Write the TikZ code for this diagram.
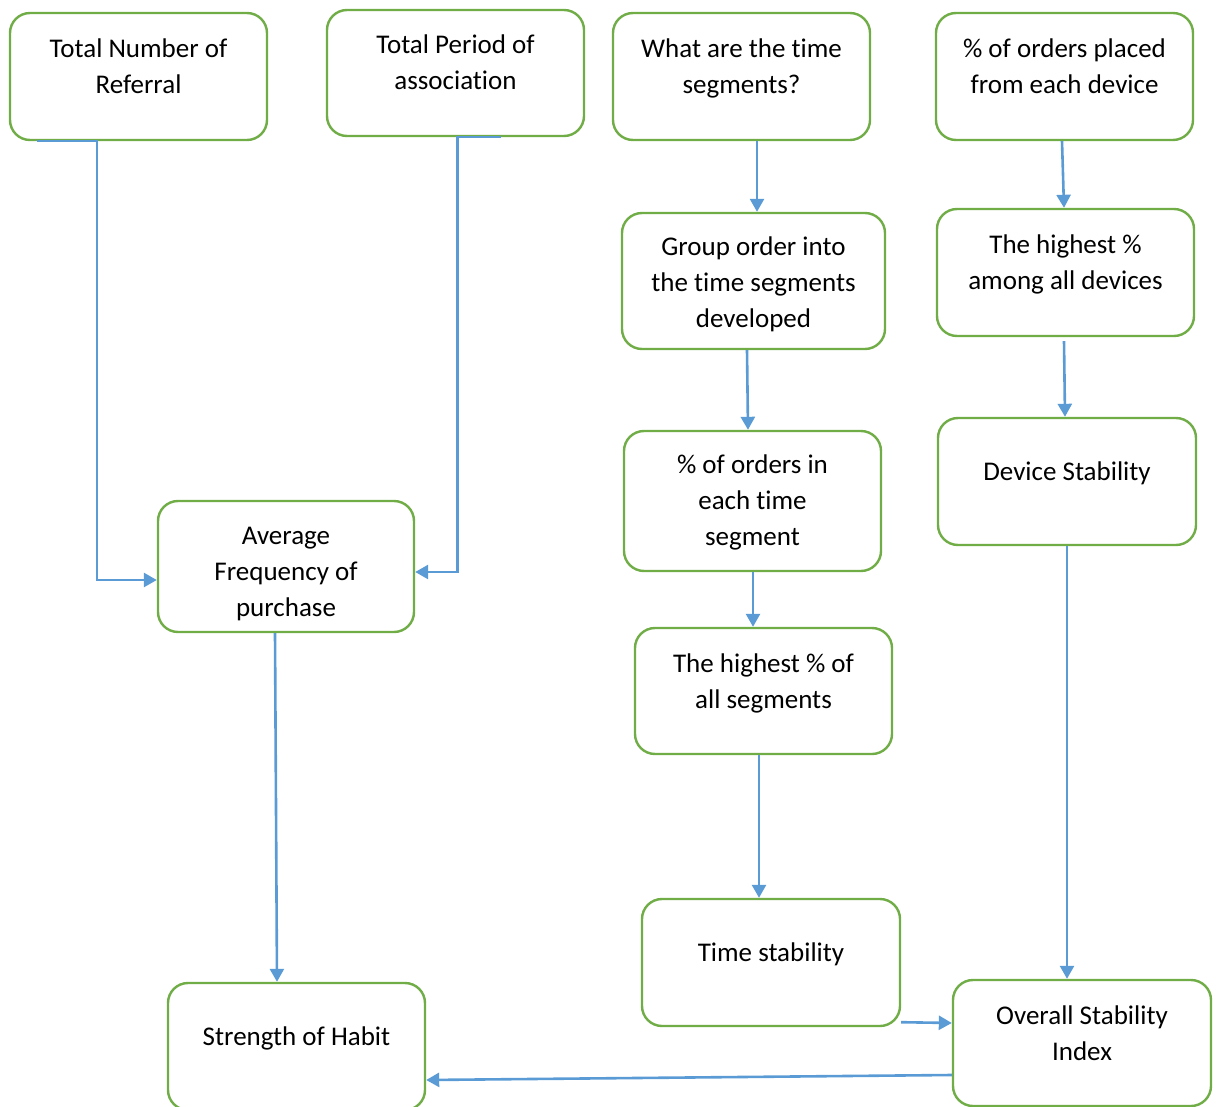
\documentclass[tikz,border=0pt]{standalone}
\usepackage{fontspec}
\setmainfont{Carlito}[Ligatures=NoCommon]
\usetikzlibrary{arrows.meta,calc}
\definecolor{FlowGreen}{HTML}{70AD47}
\definecolor{FlowBlue}{HTML}{5B9BD5}
\definecolor{FlowInk}{HTML}{000000}

\begin{document}
\begin{tikzpicture}[
    x=1pt, y=-1pt,
    font=\fontsize{27}{36}\selectfont,
    box/.style={
        rectangle,
        rounded corners=20pt,
        draw=FlowGreen,
        line width=2.4pt,
        fill=white,
        text=FlowInk,
        minimum width=257pt,
        minimum height=127pt,
        text width=245pt,
        align=flush center,
        inner sep=0pt,
        text height=20pt
    },
    oneline/.style={text depth=22pt},
    twoline/.style={text depth=58pt},
    threeline/.style={text depth=#1},
    link/.style={
        -{Triangle[length=13pt,width=14pt]},
        line width=2.6pt,
        draw=FlowBlue
    }
]
    \useasboundingbox (0,0) rectangle (1218,1107);
    \clip (0,0) rectangle (1218,1107);

    % top row
    \node[box, twoline] (refer) at (138.5,76.5)
        {Total Number of\\Referral};
    \node[box, twoline, minimum height=126pt] (period) at (455.5,73)
        {Total Period of\\association};
    \node[box, twoline] (segq) at (741.5,76.5)
        {What are the time\\segments?};
    \node[box, twoline] (devshare) at (1064.5,76.5)
        {\% of orders placed\\from each device};

    % time branch
    \node[box, threeline=71pt, minimum width=263pt, minimum height=136pt] (grouporder) at (753.5,281)
        {Group order into\\the time segments\\developed};
    \node[box, threeline=75pt, minimum height=140pt] (segshare) at (752.5,501)
        {\% of orders in\\each time\\segment};
    \node[box, twoline, minimum height=126pt] (segtop) at (763.5,691)
        {The highest \% of\\all segments};
    \node[box, oneline, minimum width=258pt] (timestab) at (771,962.5)
        {Time stability};

    % device branch
    \node[box, twoline] (devtop) at (1065.5,272.5)
        {The highest \%\\among all devices};
    \node[box, oneline, minimum width=258pt] (devstab) at (1067,481.5)
        {Device Stability};
    \node[box, twoline, minimum width=258pt, minimum height=126pt] (overall) at (1082,1043)
        {Overall Stability\\Index};

    % habit branch
    \node[box, threeline=64pt, minimum width=256pt, minimum height=131pt] (avgfreq) at (286,566.5)
        {Average\\Frequency of\\purchase};
    \node[box, oneline] (habit) at (296.5,1046.5)
        {Strength of Habit};

    % connectors
    \draw[link] ($(refer.south west)+(28,0)$) -- ($(refer.south west)+(88,0)$)
        |- ($(avgfreq.west)+(0,13.5)$);
    \draw[link] ($(period.south east)+(-84,0)$) -- ($(period.south east)+(-128,0)$)
        |- ($(avgfreq.east)+(0,5.5)$);
    \draw[link] ([xshift=15.5pt]segq.south) -- ([xshift=3.5pt]grouporder.north);
    \draw[link] ([xshift=-6.5pt]grouporder.south) -- ([xshift=-4.5pt]segshare.north);
    \draw[link] ([xshift=0.5pt]segshare.south) -- ([xshift=-10.5pt]segtop.north);
    \draw[link] ([xshift=-4.5pt]segtop.south) -- ([xshift=-12pt]timestab.north);
    \draw[link] ([xshift=-2.5pt]devshare.south) -- ([xshift=-1.5pt]devtop.north);
    \draw[link] ([xshift=-1.5pt,yshift=-4pt]devtop.south) -- ([xshift=-2pt]devstab.north);
    \draw[link] (devstab.south) -- ([xshift=-15pt]overall.north);
    \draw[link] ([xshift=-11pt]avgfreq.south) -- ([xshift=-19.5pt]habit.north);
    \draw[link] ([yshift=5pt]timestab.south east) -- ([yshift=20pt]overall.west);
    \draw[link] ([yshift=-32pt]overall.west) -- ([yshift=-33.5pt]habit.east);
\end{tikzpicture}
\end{document}
